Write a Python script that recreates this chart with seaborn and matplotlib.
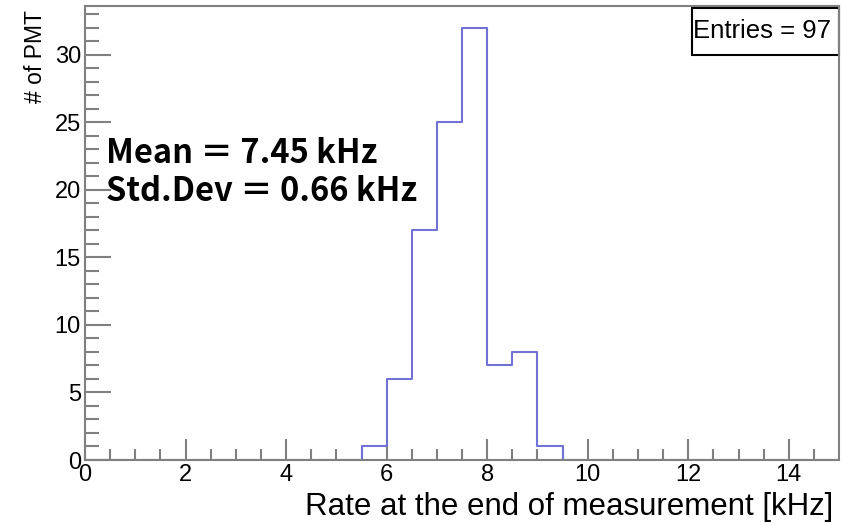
import numpy as np
import pandas as pd
import matplotlib
matplotlib.use("Agg")
import matplotlib.pyplot as plt
import seaborn as sns
from matplotlib.patches import Rectangle

# histogram contents (0.5 kHz bins)
bin_edges = [i * 0.5 for i in range(31)]
bin_lo = [5.5, 6.0, 6.5, 7.0, 7.5, 8.0, 8.5, 9.0]
counts = [1, 6, 17, 25, 32, 7, 8, 1]
x_ticks = [0, 2, 4, 6, 8, 10, 12, 14]
y_ticks = [0, 5, 10, 15, 20, 25, 30]
entries = 97
mean_txt = "Mean ＝ 7.45 kHz"
std_txt = "Std.Dev ＝ 0.66 kHz"

sns.set_style("ticks")
plt.rcParams["font.family"] = ["Liberation Sans", "DejaVu Sans"]
plt.rcParams["text.color"] = "black"
plt.rcParams["axes.labelcolor"] = "black"
plt.rcParams["xtick.labelcolor"] = "black"
plt.rcParams["ytick.labelcolor"] = "black"

df = pd.DataFrame({"rate": np.array(bin_lo) + 0.25, "n": counts})

fig = plt.figure(figsize=(8.45, 5.25), dpi=100)
ax = fig.add_axes([0.1006, 0.1238, 0.8924, 0.8648])

sns.histplot(data=df, x="rate", weights="n", bins=bin_edges, element="step",
             fill=False, color="#7272d4", linewidth=1.5, ax=ax)

ax.set_xlim(0, 15)
ax.set_ylim(0, 33.6)
ax.set_xticks(x_ticks)
ax.set_xticks(np.arange(0, 15, 0.5), minor=True)
ax.set_yticks(y_ticks)
ax.set_yticks(np.arange(0, 34, 1), minor=True)

gray = "#808080"
for s in ax.spines.values():
    s.set_color(gray)
    s.set_linewidth(1.5)
ax.tick_params(axis="x", which="major", direction="in", length=15, width=1.5,
               color=gray, labelsize=17, pad=3, labelcolor="black")
ax.tick_params(axis="x", which="minor", direction="in", length=8, width=1.5, color=gray)
ax.tick_params(axis="y", which="major", direction="in", length=19, width=1.5,
               color=gray, labelsize=17, pad=3, labelcolor="black")
ax.tick_params(axis="y", which="minor", direction="in", length=10, width=1.5, color=gray)

ax.set_xlabel("Rate at the end of measurement [kHz]", fontsize=22.5, loc="right", color="black")
ax.xaxis.set_label_coords(0.9925, -0.104)
ax.xaxis.label.set_va("center")
ax.set_ylabel("# of PMT", fontsize=16.5, loc="top", color="black")
ax.yaxis.set_label_coords(-0.065, 0.99)
ax.yaxis.label.set_va("center")

# stats box
ax.add_patch(Rectangle((0.805, 0.892), 0.195, 0.104, transform=ax.transAxes,
                       fill=False, edgecolor="black", linewidth=1.5, clip_on=False))
ax.text(0.898, 0.944, f"Entries = {entries}", transform=ax.transAxes,
        ha="center", va="center", fontsize=18.5, color="black")

big = dict(fontsize=23.5, fontweight="bold", ha="left", va="center", color="black",
           family=["Noto Sans CJK JP", "DejaVu Sans"])
ax.text(0.42, 22.65, mean_txt, **big)
ax.text(0.42, 19.85, std_txt, **big)

fig.savefig("out.png", dpi=100)
